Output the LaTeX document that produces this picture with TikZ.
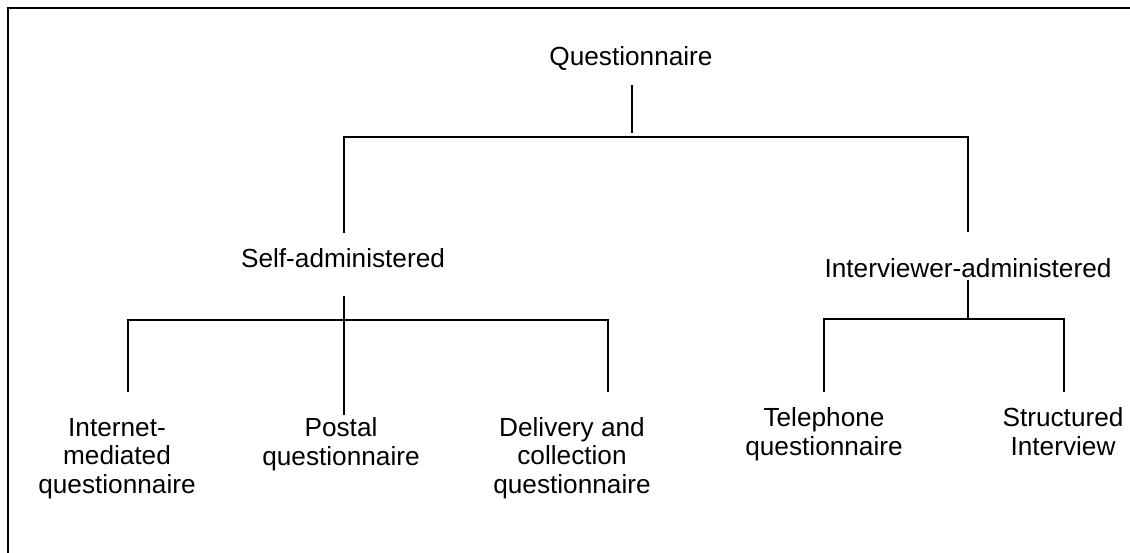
\documentclass[tikz,border=0pt]{standalone}
\usepackage{fontspec}
\setmainfont{Liberation Sans}
\begin{document}
\begin{tikzpicture}[x=1pt,y=-1pt,
  label/.style={inner sep=0pt,anchor=base,align=center,
    font=\fontsize{26.2}{28.5}\selectfont},
  link/.style={line width=1.9pt},
  frame/.style={line width=1.6pt}]
\useasboundingbox (0,0) rectangle (1130,552);
\clip (0,0) rectangle (1130,552);
\draw[frame] (8,8) rectangle (1150,570);

% labels (multi-line labels sit on the baseline of their last line)
\node[label] (q)   at (631,65)  {Questionnaire};
\node[label] (sa)  at (343,267) {Self-administered};
\node[label] (ia)  at (968,277) {Interviewer-administered};
\node[label] (im)  at (117,493) {Internet-\\mediated\\questionnaire};
\node[label] (pq)  at (341,465) {Postal\\questionnaire};
\node[label] (dc)  at (572,493) {Delivery and\\collection\\questionnaire};
\node[label] (tq)  at (824,455) {Telephone\\questionnaire};
\node[label] (si)  at (1063,455) {Structured\\Interview};

% junction points of the tree
\coordinate (qtop)  at (632,85);
\coordinate (qbot)  at (632,133);
\coordinate (barL)  at (344,137);
\coordinate (barR)  at (968,137);
\coordinate (saTop) at (344,233);
\coordinate (iaTop) at (968,232);
\coordinate (saBot) at (344,296);
\coordinate (saEnd) at (344,415);
\coordinate (sbL)   at (128,320);
\coordinate (sbR)   at (608,320);
\coordinate (imTop) at (128,392);
\coordinate (dcTop) at (608,392);
\coordinate (iaBot) at (968,280);
\coordinate (iaMid) at (968,319);
\coordinate (ibL)   at (824,319);
\coordinate (ibR)   at (1064,319);
\coordinate (tqTop) at (824,392);
\coordinate (siTop) at (1064,392);

% connectors
\draw[link] (qtop) -- (qbot);
\draw[link] (saTop) -- (barL) -- (barR) -- (iaTop);
\draw[link] (saBot) -- (saEnd);
\draw[link] (imTop) -- (sbL) -- (sbR) -- (dcTop);
\draw[link] (iaBot) -- (iaMid);
\draw[link] (tqTop) -- (ibL) -- (ibR) -- (siTop);
\end{tikzpicture}
\end{document}
